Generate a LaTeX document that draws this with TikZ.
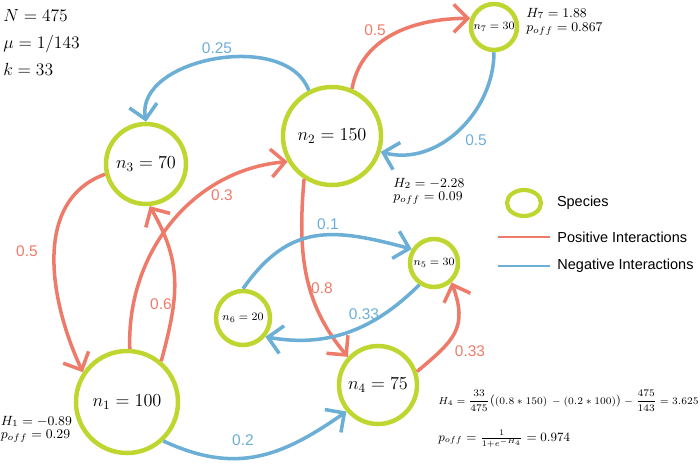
\documentclass[tikz,border=0pt]{standalone}
\usepackage{fix-cm}
\usepackage{amsmath}
\usepackage{fontspec}
\setmainfont{Liberation Sans}
\usepackage{xcolor}
\usetikzlibrary{shapes.geometric, arrows.meta, positioning}
\definecolor{spgreen}{HTML}{BFD631}
\definecolor{posred}{HTML}{EE7B6A}
\definecolor{negblue}{HTML}{6BAED6}

\begin{document}
\begin{tikzpicture}[x=0.025cm, y=-0.025cm,
        species/.style={circle, draw=spgreen, line width=3.2pt, inner sep=0pt},
        bigsp/.style={species, font=\fontsize{13}{15}\selectfont},
        smallsp/.style={species, font=\fontsize{8}{10}\selectfont},
        params/.style={font=\fontsize{12.5}{15}\selectfont, inner sep=0pt, anchor=base west},
        hnote/.style={font=\fontsize{9.5}{11}\selectfont, inner sep=0pt, anchor=base west},
        posarr/.style={-{Straight Barb[length=3.5mm,width=7mm]}, draw=posred, line width=2.5pt},
        negarr/.style={-{Straight Barb[length=3.5mm,width=7mm]}, draw=negblue, line width=2.5pt},
        wt/.style={font=\fontsize{11}{13}\selectfont, inner sep=0pt},
        legtext/.style={font=\fontsize{10.3}{12}\selectfont, inner sep=0pt}]
  \useasboundingbox (0,0) rectangle (700,463);

  \node[params] (pN) at (3,21) {$N = 475$};
  \node[params] (pmu) at (3,48) {$\mu = 1/143$};
  \node[params] (pk) at (3,75) {$k = 33$};

  \node[bigsp, minimum size=2.55cm] (n1) at (127,402) {$n_1 = 100$};
  \node[bigsp, minimum size=2.45cm] (n2) at (332,136) {$n_2 = 150$};
  \node[bigsp, minimum size=2cm] (n3) at (146,164) {$n_3 = 70$};
  \node[bigsp, minimum size=1.95cm] (n4) at (378,385) {$n_4 = 75$};
  \node[smallsp, minimum size=1.2cm] (n5) at (434,263) {$n_5 = 30$};
  \node[smallsp, minimum size=1.35cm] (n6) at (243,318) {$n_6 = 20$};
  \node[smallsp, minimum size=1.15cm] (n7) at (494,27) {$n_7 = 30$};

  \draw[negarr] (n2.117) to[out=110, in=100] (n3.90);
  \draw[posarr] (n2.67) to[out=80, in=180] (n7.160);
  \draw[negarr] (n7.270) to[out=-90, in=-15] (n2.-18);
  \draw[posarr] (n3.194) to[out=200, in=115] (n1.146);
  \draw[posarr] (n1.50) to[out=75, in=-60, looseness=1.1] (n3.-85);
  \draw[posarr] (n1.87) to[out=92, in=185] (n2.210);
  \draw[posarr] (n2.237) to[out=265, in=130] (n4.137);
  \draw[negarr] (n6.90) to[out=55, in=165, looseness=1.2] (n5.148);
  \draw[negarr] (n5.236) to[out=225, in=-10] (n6.-40);
  \draw[posarr] (n4.19) to[out=40, in=-70, looseness=1.3] (n5.-48);
  \draw[negarr] (n1.-47) to[out=-25, in=215, looseness=1.1] (n4.220);

  \node[wt, text=negblue] (l23) at (217,48) {0.25};
  \node[wt, text=posred] (l27) at (375,30) {0.5};
  \node[wt, text=negblue] (l72) at (476,140) {0.5};
  \node[wt, text=posred] (l31) at (27,251) {0.5};
  \node[wt, text=posred] (l13) at (161,304) {0.6};
  \node[wt, text=posred] (l12) at (222,195) {0.3};
  \node[wt, text=posred] (l24) at (322,288) {0.8};
  \node[wt, text=negblue] (l65) at (328,224) {0.1};
  \node[wt, text=negblue] (l56) at (364,314) {0.33};
  \node[wt, text=posred] (l45) at (470,351) {0.33};
  \node[wt, text=negblue] (l14) at (243,440) {0.2};

  \node[hnote] (h7) at (526,17.5) {$H_7 = 1.88$};
  \node[hnote] (p7) at (526,31.5) {$p_{off} = 0.867$};
  \node[hnote] (h2) at (393,187) {$H_2 = -2.28$};
  \node[hnote] (p2) at (393,200.5) {$p_{off} = 0.09$};
  \node[hnote] (h1) at (0.5,425) {$H_1 = -0.89$};
  \node[hnote] (p1) at (0.5,438.5) {$p_{off} = 0.29$};
  \node[hnote, font=\fontsize{7.2}{9}\selectfont] (h4) at (438,404)
    {$H_4 = \dfrac{33}{475}\big((0.8 * 150)\, - (0.2 * 100)\big) - \dfrac{475}{143} = 3.625$};
  \node[hnote, font=\fontsize{9}{11}\selectfont] (p4) at (438,441)
    {$p_{off} = \frac{1}{1+e^{-H_4}} = 0.974$};

  \node[species, ellipse, minimum width=0.85cm, minimum height=0.65cm, line width=3pt] (legsp) at (524,203) {};
  \node[legtext, right=0.34cm of legsp] (legsptxt) {Species};
  \coordinate (lp1) at (498,237);
  \coordinate (lp2) at (550,237);
  \draw[posred, line width=2pt] (lp1) -- (lp2);
  \node[legtext, right=0.18cm of lp2] (lptxt) {Positive Interactions};
  \coordinate (ln1) at (498,266);
  \coordinate (ln2) at (550,266);
  \draw[negblue, line width=2pt] (ln1) -- (ln2);
  \node[legtext, right=0.18cm of ln2] (lntxt) {Negative Interactions};
\end{tikzpicture}
\end{document}
